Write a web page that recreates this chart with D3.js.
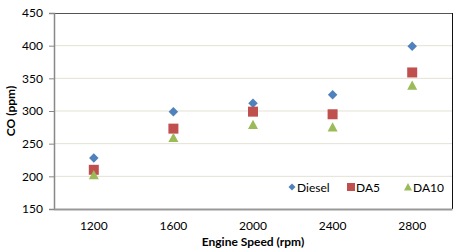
<!DOCTYPE html>
<html><head><meta charset="utf-8">
<script src="https://cdn.jsdelivr.net/npm/d3@7"></script>
<style>body{margin:0;background:#fff}text{font-family:Lato,"Open Sans",sans-serif;fill:#000}</style>
</head><body><svg id="c" width="459" height="252"></svg>
<script>
const categories = ["1200","1600","2000","2400","2800"];
const seriesNames = ["Diesel","DA5","DA10"];
const diesel = [228, 299, 312, 325, 399];
const da5 = [210, 273, 299, 295, 359];
const da10 = [202, 259, 279, 275, 339];
const yTicks = [150,200,250,300,350,400,450];
const colors = ["#4F81BD","#C0504D","#9BBB59"];
const shapes = ["diamond","square","triangle"];
const allSeries = [diesel, da5, da10];

const svg = d3.select("#c");
const m = {l:54, t:13, r:452, b:209};
const x = d3.scaleBand().domain(categories).range([m.l, m.r]);
const y = d3.scaleLinear().domain([150,450]).range([m.b, m.t]);

function markerPath(shape, s){
  const h = s/2;
  if(shape==="diamond") return `M0,${-h}L${h},0L0,${h}L${-h},0Z`;
  if(shape==="square") return `M${-h},${-h}H${h}V${h}H${-h}Z`;
  return `M0,${-h}L${h},${h*0.85}L${-h},${h*0.85}Z`;
}

// gridlines
svg.append("g").selectAll("line").data(yTicks.filter(d=>d>150 && d<450)).join("line")
  .attr("x1", m.l).attr("x2", m.r).attr("y1", d=>y(d)).attr("y2", d=>y(d))
  .attr("stroke","#e4e1d4").attr("stroke-width",1);

// frame top and right
svg.append("line").attr("x1",m.l).attr("x2",m.r).attr("y1",m.t+0.5).attr("y2",m.t+0.5).attr("stroke","#555");
svg.append("line").attr("x1",m.r+0.5).attr("x2",m.r+0.5).attr("y1",m.t).attr("y2",m.b).attr("stroke","#111");

// y axis
const ya = svg.append("g").attr("transform",`translate(${m.l},0)`)
  .call(d3.axisLeft(y).tickValues(yTicks).tickSize(5).tickPadding(6));
ya.select(".domain").attr("stroke","#888").attr("stroke-width",1.5);
ya.selectAll(".tick line").attr("stroke","#888");
ya.selectAll("text").attr("font-size",12).attr("font-family","Lato").attr("fill","#000");

// x axis
const xa = svg.append("g").attr("transform",`translate(0,${m.b})`)
  .call(d3.axisBottom(x).tickSize(0).tickPadding(12));
xa.select(".domain").attr("stroke","#999").attr("stroke-width",2);
xa.selectAll("text").attr("font-size",12).attr("font-family","Lato").attr("fill","#000");

// axis titles
svg.append("text").attr("x",(m.l+m.r)/2).attr("y",246).attr("text-anchor","middle")
  .attr("font-size",12).attr("font-weight","bold").text("Engine Speed (rpm)");
svg.append("text").attr("transform",`translate(15,${(m.t+m.b)/2}) rotate(-90)`).attr("text-anchor","middle")
  .attr("font-size",12).attr("font-weight","bold").text("CO (ppm)");

// points
allSeries.forEach((vals,i)=>{
  svg.append("g").selectAll("path").data(vals).join("path")
    .attr("transform",(d,j)=>`translate(${x(categories[j])+x.bandwidth()/2},${y(d)})`)
    .attr("d", markerPath(shapes[i], i===0?9.5:10))
    .attr("fill", colors[i]);
});

// legend
const legX = [292, 351, 408];
const legY = 187;
seriesNames.forEach((n,i)=>{
  svg.append("path").attr("transform",`translate(${legX[i]},${legY})`)
    .attr("d", markerPath(shapes[i], i===0?7:8)).attr("fill",colors[i]);
  svg.append("text").attr("x",legX[i]+5).attr("y",legY+4.5).attr("font-size",12).text(n);
});
</script></body></html>
